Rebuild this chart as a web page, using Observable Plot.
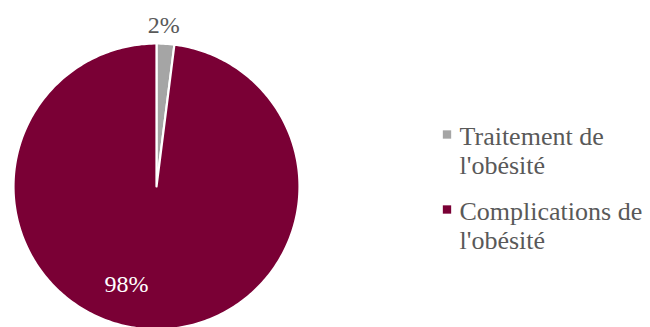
<!DOCTYPE html>
<html><head><meta charset="utf-8">
<script src="https://cdn.jsdelivr.net/npm/d3@7"></script>
<script src="https://cdn.jsdelivr.net/npm/@observablehq/plot@0.6"></script>
<style>body{margin:0;background:#fff}#chart svg{display:block}#chart svg text{font-family:"Liberation Serif",serif}</style>
</head><body><div id="chart"></div>
<script>
// ---- data ----
const categories = ["Traitement de l'obésité", "Complications de l'obésité"];
const legendLabels = ["Traitement de\nl'obésité", "Complications de\nl'obésité"];
const values = [2, 98];
const valueLabels = ["2%", "98%"];
const colors = ["#A5A5A5", "#7A0035"];

// ---- layout ----
const W = 650, H = 327;
const cx = 156, cy = 186, R = 143;
const font = "'Liberation Serif', serif";
const labelRadius = [1.129, 0.682];
const labelDx = [-3, -24];
const labelFill = ["#595959", "#ffffff"];
const legendX = 446.5, legendTextX = 459, legendY = [134, 209];

const pie = d3.pie().sort(null).value(d => d.value)(
  categories.map((c, i) => ({category: c, value: values[i], label: valueLabels[i]}))
);

const poly = [];
for (const a of pie) {
  const n = Math.max(2, Math.ceil((a.endAngle - a.startAngle) / (Math.PI / 180)));
  poly.push({category: a.data.category, px: cx, py: cy});
  for (let k = 0; k <= n; k++) {
    const t = a.startAngle + (a.endAngle - a.startAngle) * k / n;
    poly.push({category: a.data.category, px: cx + R * Math.sin(t), py: cy - R * Math.cos(t)});
  }
  poly.push({category: a.data.category, px: cx, py: cy});
}

const labels = pie.map((a, i) => {
  const m = (a.startAngle + a.endAngle) / 2;
  return {text: a.data.label, px: cx + R * labelRadius[i] * Math.sin(m) + labelDx[i],
          py: cy - R * labelRadius[i] * Math.cos(m), fill: labelFill[i]};
});

const legend = categories.map((c, i) => ({category: c, text: legendLabels[i], py: legendY[i]}));

const chart = Plot.plot({
  width: W, height: H,
  margin: 0,
  x: {domain: [0, W], range: [0, W], axis: null},
  y: {domain: [0, H], range: [0, H], axis: null},
  color: {domain: categories, range: colors},
  style: {fontFamily: font, background: "white"},
  marks: [
    Plot.line(poly, {x: "px", y: "py", z: "category", fill: "category", stroke: "white", strokeWidth: 2.2, curve: "linear-closed", strokeLinejoin: "round"}),
    Plot.text(labels, {x: "px", y: "py", text: "text", fill: "fill", fontSize: 24, fontFamily: font}),
    Plot.dot(legend, {x: () => legendX, y: "py", fill: "category", symbol: "square", r: 4.7, stroke: "none"}),
    Plot.text(legend, {x: () => legendTextX, y: "py", text: "text", textAnchor: "start", lineAnchor: "top", dy: -11, lineHeight: 1.14, fill: "#595959", fontSize: 26, fontFamily: font})
  ]
});
document.getElementById("chart").append(chart);
</script>
</body></html>
